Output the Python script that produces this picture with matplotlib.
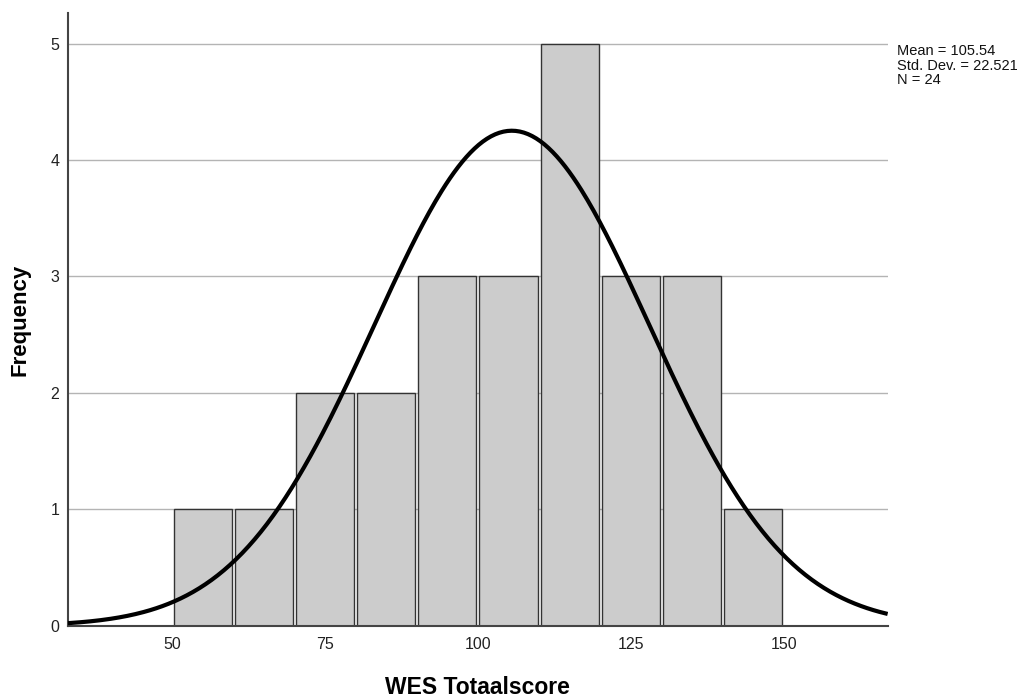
import numpy as np
import matplotlib
matplotlib.use("Agg")
import matplotlib.pyplot as plt

plt.rcParams['font.family'] = ['Liberation Sans', 'DejaVu Sans']

# Data
bin_left = [50, 60, 70, 80, 90, 100, 110, 120, 130, 140]
counts = [1, 1, 2, 2, 3, 3, 5, 3, 3, 1]
bin_width = 10
mean = 105.54
std = 22.521
n = 24
x_ticks = [50, 75, 100, 125, 150]
y_ticks = [0, 1, 2, 3, 4, 5]

fig = plt.figure(figsize=(10.25, 6.97), dpi=100)
ax = fig.add_axes([0.066, 0.102, 0.8, 0.879])

ax.set_xlim(32.9, 167.0)
ax.set_ylim(0, 5.26)

for y in y_ticks[1:]:
    ax.axhline(y, color='#b4b4b4', linewidth=1.0, zorder=0)

centers = np.array(bin_left) + bin_width / 2
ax.bar(centers, counts, width=bin_width * 0.95, color='#cccccc',
       edgecolor='#333333', linewidth=1.0, zorder=2)

xs = np.linspace(32.9, 167.0, 400)
ys = n * bin_width / (std * np.sqrt(2 * np.pi)) * np.exp(-0.5 * ((xs - mean) / std) ** 2)
ax.plot(xs, ys, color='black', linewidth=3.0, zorder=3, solid_capstyle='butt')

ax.set_xticks(x_ticks)
ax.set_yticks(y_ticks)
ax.tick_params(axis='both', length=0, labelsize=11.5, colors='#222222')
ax.tick_params(axis='x', pad=8)
ax.tick_params(axis='y', pad=6)

for s in ['top', 'right']:
    ax.spines[s].set_visible(False)
for s in ['left', 'bottom']:
    ax.spines[s].set_color('#444444')
    ax.spines[s].set_linewidth(1.5)

ax.set_xlabel('WES Totaalscore', fontsize=16.5, fontweight='bold', labelpad=17)
ax.set_ylabel('Frequency', fontsize=16, fontweight='bold', labelpad=14)

fig.text(897 / 1025, 1 - 44 / 697,
         f'Mean = {mean:.2f}\nStd. Dev. = {std:.3f}\nN = {n}',
         fontsize=10.5, va='top', ha='left', linespacing=1.05, color='#111111')

fig.savefig('out.png', dpi=100)
